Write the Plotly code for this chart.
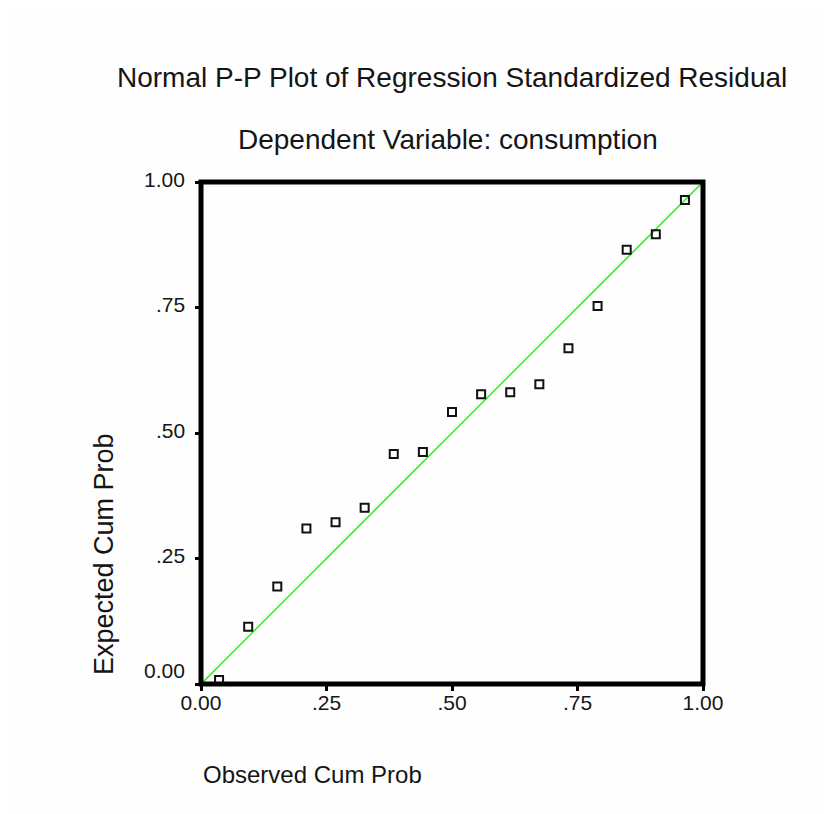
import plotly.graph_objects as go

# ---- data ----
observed_cum_prob = [0.036, 0.094, 0.152, 0.210, 0.268, 0.326, 0.384, 0.442, 0.500,
                     0.558, 0.616, 0.674, 0.732, 0.790, 0.848, 0.906, 0.964]
expected_cum_prob = [0.008, 0.114, 0.194, 0.310, 0.322, 0.351, 0.458, 0.462, 0.542,
                     0.577, 0.581, 0.597, 0.669, 0.753, 0.865, 0.896, 0.964]
reference_x = [0.0, 1.0]
reference_y = [0.0, 1.0]
tick_vals = [0.0, 0.25, 0.50, 0.75, 1.00]
tick_text = ["0.00", ".25", ".50", ".75", "1.00"]

title_text = "Normal P-P Plot of Regression Standardized Residual"
subtitle_text = "Dependent Variable: consumption"
x_title = "Observed Cum Prob"
y_title = "Expected Cum Prob"

FONT = "Liberation Sans, Arial, sans-serif"
TXT = "#151515"

fig = go.Figure()
fig.add_trace(go.Scatter(
    x=reference_x, y=reference_y, mode="lines",
    line=dict(color="#22ee22", width=1.5), hoverinfo="skip", showlegend=False,
))
fig.add_trace(go.Scatter(
    x=observed_cum_prob, y=expected_cum_prob, mode="markers",
    marker=dict(symbol="square-open", size=8, color="#111111",
                line=dict(width=2, color="#111111")),
    showlegend=False, cliponaxis=False,
))

annotations = [
    dict(text=title_text, x=0.5, y=1.209, xref="paper", yref="paper",
         xanchor="center", yanchor="middle", showarrow=False,
         font=dict(family=FONT, size=28, color=TXT)),
    dict(text=subtitle_text, x=0.493, y=1.084, xref="paper", yref="paper",
         xanchor="center", yanchor="middle", showarrow=False,
         font=dict(family=FONT, size=28, color=TXT)),
    dict(text=x_title, x=0.0, y=-0.181, xref="paper", yref="paper",
         xanchor="left", yanchor="middle", showarrow=False,
         font=dict(family=FONT, size=24, color=TXT)),
    dict(text=y_title, x=-0.193, y=0.014, xref="paper", yref="paper",
         xanchor="center", yanchor="bottom", textangle=-90, showarrow=False,
         font=dict(family=FONT, size=27, color=TXT)),
]
for v, t in zip(tick_vals, tick_text):
    annotations.append(dict(
        text=t, x=0, y=v, xref="paper", yref="y", xanchor="right", yanchor="middle",
        xshift=-14, yshift=(14 if v == 0 else 3), showarrow=False,
        font=dict(family=FONT, size=21, color=TXT)))

shapes = [
    # thick frame
    dict(type="rect", xref="x domain", yref="y domain", x0=0, x1=1, y0=0, y1=1,
         line=dict(color="black", width=5), fillcolor="rgba(0,0,0,0)", layer="above"),
]

fig.update_layout(
    width=821, height=806,
    margin=dict(l=193, r=126, t=174, b=130),
    paper_bgcolor="#fefefe",
    plot_bgcolor="#fefefe",
    annotations=annotations,
    shapes=shapes,
    showlegend=False,
    xaxis=dict(range=[0, 1], showgrid=False, zeroline=False, showline=False,
               tickmode="array", tickvals=tick_vals, ticktext=tick_text,
               ticks="outside", ticklen=6, tickwidth=3, tickcolor="black",
               ticklabelstandoff=-6,
               tickfont=dict(family=FONT, size=21, color=TXT)),
    yaxis=dict(range=[0, 1], showgrid=False, zeroline=False, showline=False,
               tickmode="array", tickvals=tick_vals, showticklabels=False,
               ticks="outside", ticklen=5, tickwidth=3, tickcolor="black"),
)

fig.write_html("out.html")
